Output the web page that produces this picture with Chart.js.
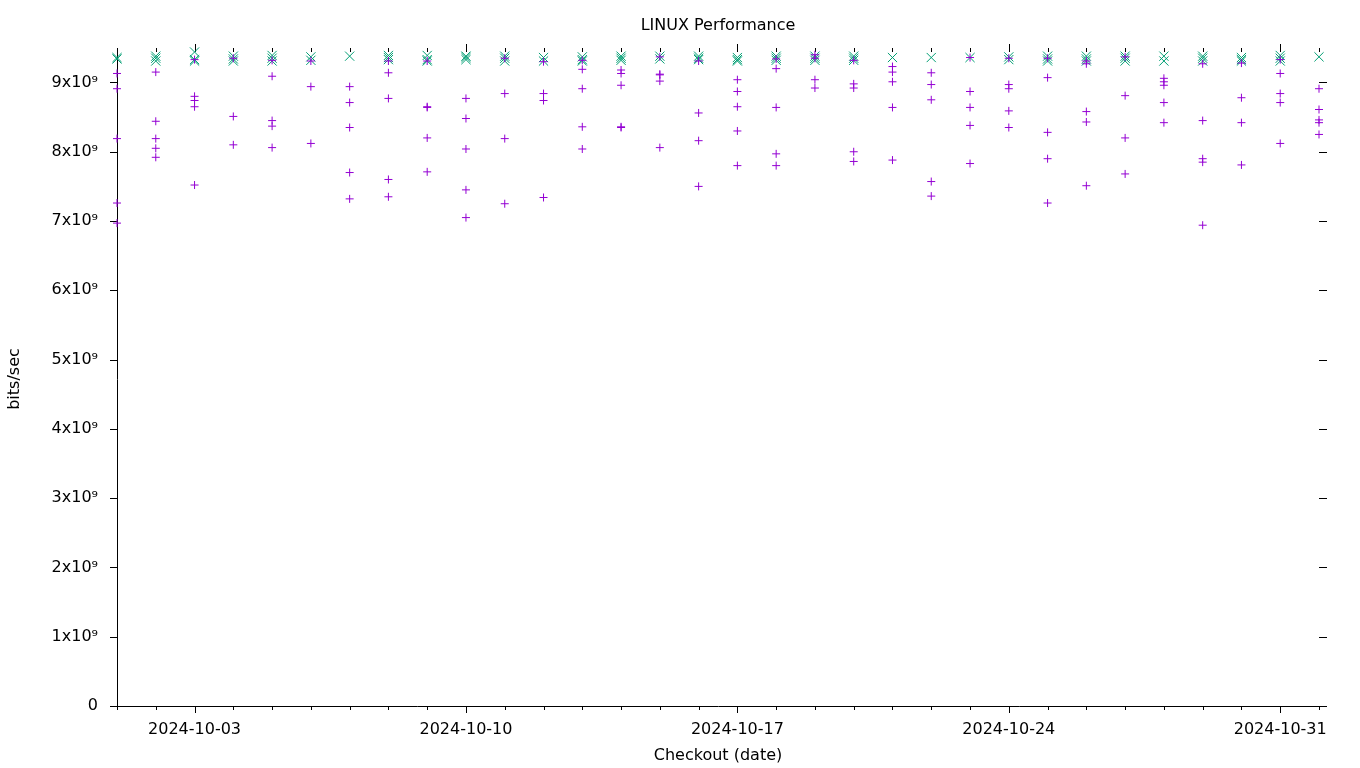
<!DOCTYPE html>
<html><head><meta charset="utf-8">
<script src="https://cdn.jsdelivr.net/npm/chart.js@4.4.1/dist/chart.umd.min.js"></script>
<style>html,body{margin:0;padding:0;background:#fff}#wrap{width:1360px;height:768px}</style>
</head><body><div id="wrap"><canvas id="c" width="1360" height="768"></canvas></div>
<script>
// ---- data (values in units of 10^9 bits/sec) ----
const dates = ['2024-10-01','2024-10-02','2024-10-03','2024-10-04','2024-10-05','2024-10-06','2024-10-07','2024-10-08',
  '2024-10-09','2024-10-10','2024-10-11','2024-10-12','2024-10-13','2024-10-14','2024-10-15','2024-10-16',
  '2024-10-17','2024-10-18','2024-10-19','2024-10-20','2024-10-21','2024-10-22','2024-10-23','2024-10-24',
  '2024-10-25','2024-10-26','2024-10-27','2024-10-28','2024-10-29','2024-10-30','2024-10-31','2024-11-01'];
const xTickLabels = ['2024-10-03','2024-10-10','2024-10-17','2024-10-24','2024-10-31'];
const yTickValues = [0,1,2,3,4,5,6,7,8,9];
const yTickLabels = ['0','1x10\u2079','2x10\u2079','3x10\u2079','4x10\u2079','5x10\u2079','6x10\u2079','7x10\u2079','8x10\u2079','9x10\u2079'];
const yMax = 9.44;
const chartTitle = 'LINUX Performance';
const plusValues = [
  [9.13,8.91,8.19,7.26,6.97],
  [9.15,8.44,8.19,8.05,7.92],
  [9.33,8.80,8.74,8.65,7.52],
  [9.35,8.51,8.10],
  [9.32,9.09,8.45,8.37,8.06],
  [9.31,8.94,8.12],
  [8.94,8.71,8.35,7.70,7.32],
  [9.31,9.14,8.77,7.60,7.35],
  [9.31,8.65,8.64,8.20,7.71],
  [8.77,8.48,8.04,7.45,7.05],
  [9.35,8.84,8.19,7.25],
  [9.30,8.84,8.74,7.34],
  [9.32,9.19,8.91,8.36,8.04],
  [9.18,9.13,8.96,8.36,8.35],
  [9.37,9.12,9.11,9.02,8.06],
  [9.31,8.56,8.16,7.50],
  [9.04,8.87,8.65,8.30,7.80],
  [9.34,9.20,8.64,7.97,7.80],
  [9.40,9.35,9.04,8.92],
  [9.32,8.98,8.92,8.00,7.86],
  [9.23,9.15,9.01,8.64,7.88],
  [9.14,8.97,8.75,7.57,7.36],
  [9.36,8.87,8.64,8.38,7.83],
  [9.35,8.97,8.91,8.59,8.35],
  [9.35,9.07,8.28,7.90,7.26],
  [9.31,9.27,8.58,8.43,7.51],
  [9.37,8.81,8.20,7.68],
  [9.06,9.01,8.96,8.71,8.42],
  [9.27,8.45,7.90,7.85,6.94],
  [9.28,8.78,8.42,7.81],
  [9.33,9.13,8.84,8.71,8.12],
  [8.91,8.61,8.46,8.42,8.25]
];
const crossValues = [
  [9.36,9.34],[9.38,9.35,9.31],[9.44,9.33,9.31],[9.38,9.34,9.31],[9.39,9.35,9.31],
  [9.37,9.32],[9.38],[9.39,9.36,9.33],[9.39,9.33,9.31],[9.38,9.36,9.33],
  [9.38,9.35,9.31],[9.36,9.31],[9.37,9.33,9.31],[9.38,9.35,9.32],[9.38,9.34],
  [9.38,9.35,9.33],[9.36,9.33,9.31],[9.38,9.35,9.32],[9.38,9.35,9.32],[9.38,9.35,9.32],
  [9.36],[9.36],[9.36],[9.37,9.33],[9.38,9.34,9.31],
  [9.38,9.34,9.31],[9.38,9.35,9.31],[9.38,9.31],[9.38,9.35,9.31],[9.36,9.33,9.31],
  [9.39,9.35,9.31],[9.37]
];
const UNIT = 1e9;

function toPoints(groups){
  const pts = [];
  groups.forEach((vals, i) => vals.forEach(v => pts.push({x: i, y: v * UNIT})));
  return pts;
}

const FONT = 'DejaVu Sans';

const gpDecor = {
  id: 'gpDecor',
  beforeDatasetsDraw(chart){
    const {ctx, chartArea: a, scales: {x, y}} = chart;
    ctx.save();
    ctx.strokeStyle = '#000';
    ctx.lineWidth = 1;
    ctx.beginPath();
    x.ticks.forEach(t => {
      const px = Math.round(x.getPixelForValue(t.value)) + 0.5;
      const major = xTickLabels.includes(dates[t.value]);
      ctx.moveTo(px, a.bottom); ctx.lineTo(px, a.bottom + (major ? 7 : 4));
      ctx.moveTo(px, a.top); ctx.lineTo(px, a.top - (major ? 8 : 4));
    });
    y.ticks.forEach(t => {
      const py = Math.round(y.getPixelForValue(t.value)) + 0.5;
      ctx.moveTo(a.left - 7, py); ctx.lineTo(a.left, py);
      ctx.moveTo(a.right, py); ctx.lineTo(a.right + 8, py);
    });
    ctx.stroke();
    // title centred over the plot area
    ctx.fillStyle = '#000';
    ctx.font = '16px "' + FONT + '"';
    ctx.textAlign = 'center';
    ctx.textBaseline = 'middle';
    ctx.fillText(chartTitle, (a.left + a.right) / 2, 26);
    ctx.restore();
  }
};

new Chart(document.getElementById('c'), {
  type: 'scatter',
  data: {
    datasets: [
      {
        label: 'plus',
        data: toPoints(plusValues),
        pointStyle: 'cross',
        pointRadius: 4,
        pointBorderWidth: 1,
        borderColor: '#9400D3',
        backgroundColor: '#9400D3',
        clip: false
      },
      {
        label: 'cross',
        data: toPoints(crossValues),
        pointStyle: 'crossRot',
        pointRadius: 6.5,
        pointBorderWidth: 1,
        borderColor: '#009E73',
        backgroundColor: '#009E73',
        clip: false
      }
    ]
  },
  options: {
    responsive: false,
    animation: false,
    devicePixelRatio: 1,
    layout: {padding: {left: 0, right: 41, top: 52, bottom: 0}},
    plugins: {
      legend: {display: false},
      tooltip: {enabled: false},
      title: {display: false}
    },
    events: [],
    scales: {
      x: {
        type: 'linear',
        min: 0,
        max: dates.length - 1,
        afterBuildTicks: s => { s.ticks = dates.map((d, i) => ({value: i})); },
        afterFit: s => { s.height = 62; },
        ticks: {
          autoSkip: false,
          maxRotation: 0,
          padding: 7,
          color: '#000',
          font: {family: FONT, size: 16},
          callback: (v) => xTickLabels.includes(dates[v]) ? dates[v] : ''
        },
        grid: {display: true, drawOnChartArea: false, drawTicks: true, tickLength: 7, tickColor: 'rgba(0,0,0,0)'},
        border: {display: true, color: '#000', width: 1},
        title: {display: true, text: 'Checkout (date)', color: '#000', font: {family: FONT, size: 16}, padding: {top: 0, bottom: 3}}
      },
      y: {
        type: 'linear',
        min: 0,
        max: yMax * UNIT,
        afterBuildTicks: s => { s.ticks = yTickValues.map(v => ({value: v * UNIT})); },
        afterFit: s => { s.width = 117; },
        ticks: {
          autoSkip: false,
          padding: 12,
          color: '#000',
          font: {family: FONT, size: 16},
          callback: (v) => { const i = yTickValues.indexOf(Math.round(v / UNIT)); return i >= 0 ? yTickLabels[i] : ''; }
        },
        grid: {display: true, drawOnChartArea: false, drawTicks: true, tickLength: 7, tickColor: 'rgba(0,0,0,0)'},
        border: {display: true, color: '#000', width: 1},
        title: {display: true, text: 'bits/sec', color: '#000', font: {family: FONT, size: 16}, padding: {top: 5, bottom: 0}}
      }
    }
  },
  plugins: [gpDecor]
});
</script>
</body></html>
